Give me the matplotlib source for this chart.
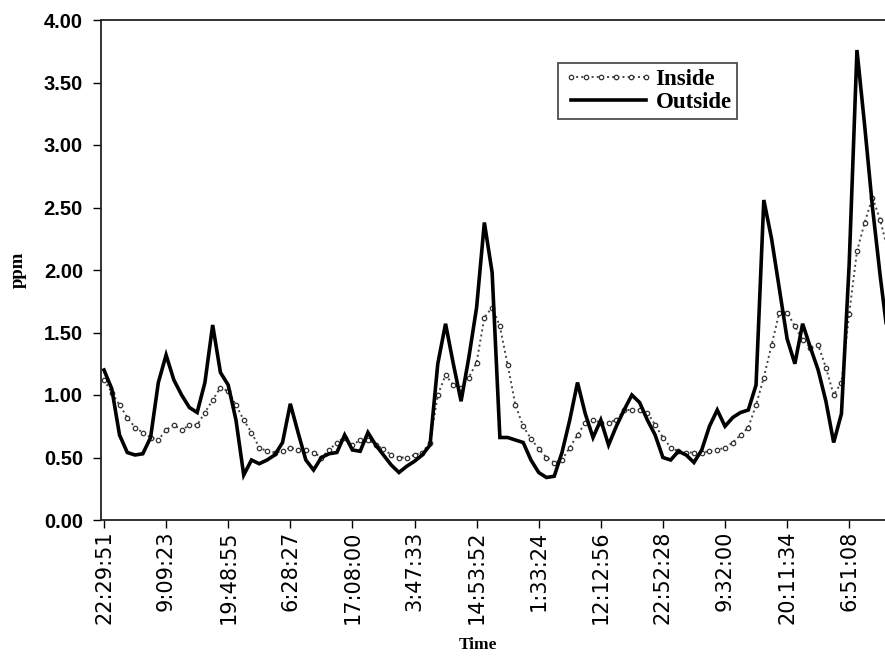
import matplotlib
matplotlib.use("Agg")
import matplotlib.pyplot as plt
import numpy as np

# ---- data (8 samples per labelled tick interval) ----
tick_labels = ["22:29:51", "9:09:23", "19:48:55", "6:28:27", "17:08:00", "3:47:33",
               "14:53:52", "1:33:24", "12:12:56", "22:52:28", "9:32:00", "20:11:34",
               "6:51:08"]
samples_per_tick = 8

outside = [1.20, 1.05, 0.68, 0.54, 0.52, 0.53, 0.66, 1.10, 1.32, 1.12,
           1.00, 0.90, 0.86, 1.10, 1.56, 1.18, 1.08, 0.80, 0.36, 0.48,
           0.45, 0.48, 0.52, 0.62, 0.93, 0.70, 0.48, 0.40, 0.50, 0.53,
           0.54, 0.68, 0.56, 0.55, 0.70, 0.60, 0.52, 0.44, 0.38, 0.43,
           0.47, 0.52, 0.60, 1.25, 1.57, 1.25, 0.95, 1.30, 1.70, 2.38,
           1.98, 0.66, 0.66, 0.64, 0.62, 0.48, 0.38, 0.34, 0.35, 0.54,
           0.80, 1.10, 0.85, 0.66, 0.80, 0.60, 0.75, 0.88, 1.00, 0.94,
           0.80, 0.68, 0.50, 0.48, 0.55, 0.52, 0.46, 0.56, 0.75, 0.88,
           0.75, 0.82, 0.86, 0.88, 1.08, 2.56, 2.25, 1.85, 1.45, 1.25,
           1.57, 1.38, 1.20, 0.95, 0.62, 0.85, 2.05, 3.76, 3.15, 2.50,
           1.95, 1.45]

inside = [1.12, 1.02, 0.92, 0.82, 0.74, 0.70, 0.66, 0.64, 0.72, 0.76,
          0.72, 0.76, 0.76, 0.86, 0.96, 1.06, 1.03, 0.92, 0.80, 0.70,
          0.58, 0.55, 0.54, 0.55, 0.58, 0.56, 0.56, 0.54, 0.50, 0.56,
          0.62, 0.66, 0.60, 0.64, 0.64, 0.60, 0.57, 0.52, 0.50, 0.50,
          0.52, 0.54, 0.62, 1.00, 1.16, 1.08, 1.06, 1.14, 1.26, 1.62,
          1.70, 1.55, 1.24, 0.92, 0.75, 0.65, 0.57, 0.50, 0.46, 0.48,
          0.58, 0.68, 0.78, 0.80, 0.78, 0.78, 0.80, 0.88, 0.88, 0.88,
          0.86, 0.76, 0.66, 0.58, 0.55, 0.54, 0.54, 0.54, 0.55, 0.56,
          0.58, 0.62, 0.68, 0.74, 0.92, 1.14, 1.40, 1.66, 1.66, 1.55,
          1.44, 1.38, 1.40, 1.22, 1.00, 1.10, 1.65, 2.15, 2.38, 2.58,
          2.40, 2.15]

y_ticks = [0.0, 0.5, 1.0, 1.5, 2.0, 2.5, 3.0, 3.5, 4.0]

# ---- figure ----
W, H = 885, 656
fig = plt.figure(figsize=(W / 100, H / 100), dpi=100)
ax_left, ax_right, ax_top, ax_bot = 101, 900, 20, 520
ax = fig.add_axes([ax_left / W, 1 - ax_bot / H, (ax_right - ax_left) / W, (ax_bot - ax_top) / H])

x = np.arange(len(outside))
px_per_sample = 62.1 / samples_per_tick
first_px = 104
ax.set_xlim(-(first_px - ax_left) / px_per_sample, (ax_right - first_px) / px_per_sample)
ax.set_ylim(0, 4)

ax.plot(x, inside, linestyle=':', color='#444444', linewidth=1.4,
        marker='o', markersize=3.2, markerfacecolor='white', markeredgecolor='#333333',
        markeredgewidth=0.9, label='Inside', zorder=2)
ax.plot(x, outside, linestyle='-', color='black', linewidth=2.6, label='Outside',
        solid_joinstyle='miter', zorder=3)

ax.set_xticks(np.arange(len(tick_labels)) * samples_per_tick)
ax.set_xticklabels(tick_labels, rotation=90, fontsize=15, family='DejaVu Sans')
ax.set_yticks(y_ticks)
ax.set_yticklabels([f"{v:.2f}" for v in y_ticks], fontsize=14.5,
                   family='Liberation Sans', fontweight='bold')
ax.tick_params(axis='y', direction='out', length=6, width=1, pad=7)
ax.tick_params(axis='x', direction='out', length=6, width=1, pad=1.5)

for s in ['left', 'top', 'bottom']:
    ax.spines[s].set_linewidth(1.3)
    ax.spines[s].set_color('#222222')
ax.spines['right'].set_visible(False)

ax.set_ylabel('ppm', family='Liberation Serif', fontweight='bold', fontsize=13.5,
              ha='center', va='center')
ax.yaxis.set_label_coords((18 - ax_left) / (ax_right - ax_left), 0.5)
ax.set_xlabel('Time', family='Liberation Serif', fontweight='bold', fontsize=12.5)
ax.xaxis.label.set_va('center')
ax.xaxis.set_label_coords((478 - ax_left) / (ax_right - ax_left), (ax_bot - 645) / (ax_bot - ax_top))

leg = ax.legend(loc='upper left', bbox_to_anchor=(558 / W, 1 - 63 / H),
                bbox_transform=fig.transFigure, frameon=True, fancybox=False,
                prop={'family': 'Liberation Serif', 'weight': 'bold', 'size': 16.5},
                handlelength=3.9, handletextpad=0.1, borderpad=0.25,
                labelspacing=0.1, borderaxespad=0, numpoints=6)
leg.get_frame().set_edgecolor('#222222')
leg.get_frame().set_linewidth(1.3)

fig.savefig('out.png', dpi=100)
